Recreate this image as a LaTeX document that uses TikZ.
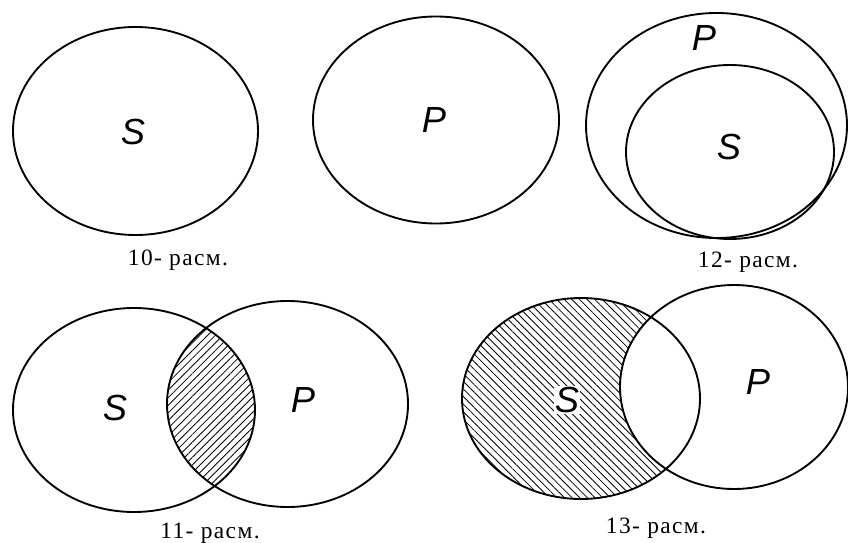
\documentclass[tikz,border=0pt]{standalone}
\usepackage{fontspec}
\setmainfont{Liberation Serif}
\newfontfamily\letterfont{Liberation Sans}
\newfontfamily\captionfont[LetterSpace=6]{Liberation Serif}
\usetikzlibrary{patterns.meta}

\begin{document}
\begin{tikzpicture}[
  x=0.03cm, y=-0.03cm,
  setline/.style={line width=1.6pt},
  letternode/.style={font=\letterfont\itshape\fontsize{31}{33}\selectfont, inner sep=0pt},
  captionnode/.style={font=\captionfont\fontsize{20}{22}\selectfont, inner sep=0pt},
  hatchright/.style={pattern={Lines[angle=45, distance=4.6pt, line width=0.7pt]}},
  hatchleft/.style={pattern={Lines[angle=-45, distance=4.6pt, line width=0.7pt]}}
]
\useasboundingbox (0,0) rectangle (848,543);

% centres
\coordinate (s10) at (135.5,131);
\coordinate (p10) at (436,120);
\coordinate (p12) at (716.5,125.5);
\coordinate (s12) at (730,152);
\coordinate (s11) at (134,410);
\coordinate (p11) at (287.5,404);
\coordinate (s13) at (581,398.5);
\coordinate (p13) at (734,387);

% Fig. 10
\draw[setline] (s10) ellipse [x radius=122.5, y radius=104];
\draw[setline] (p10) ellipse [x radius=123, y radius=103.5];
\node[letternode] (lS10) at (133,132) {S};
\node[letternode] (lP10) at (434,120) {P};
\node[captionnode] (cap10) at (178,260) {10- расм.};

% Fig. 12
\draw[setline] (p12) ellipse [x radius=130.5, y radius=112.5];
\draw[setline] (s12) ellipse [x radius=104, y radius=87];
\node[letternode] (lP12) at (704,38) {P};
\node[letternode] (lS12) at (729,147) {S};
\node[captionnode] (cap12) at (748,262) {12- расм.};

% Fig. 11
\begin{scope}
  \clip (s11) ellipse [x radius=121, y radius=102];
  \fill[hatchright] (p11) ellipse [x radius=120.5, y radius=103];
\end{scope}
\draw[setline] (s11) ellipse [x radius=121, y radius=102];
\draw[setline] (p11) ellipse [x radius=120.5, y radius=103];
\node[letternode] (lS11) at (115,408) {S};
\node[letternode] (lP11) at (303,400) {P};
\node[captionnode] (cap11) at (210,533) {11- расм.};

% Fig. 13
\fill[hatchleft] (s13) ellipse [x radius=119, y radius=100.5];
\fill[white] (p13) ellipse [x radius=114, y radius=102];
\draw[setline] (s13) ellipse [x radius=119, y radius=100.5];
\draw[setline] (p13) ellipse [x radius=114, y radius=102];
\node[letternode, fill=white, inner sep=1pt] (lS13) at (567,400) {S};
\node[letternode] (lP13) at (758,382) {P};
\node[captionnode] (cap13) at (656,528) {13- расм.};
\end{tikzpicture}
\end{document}
